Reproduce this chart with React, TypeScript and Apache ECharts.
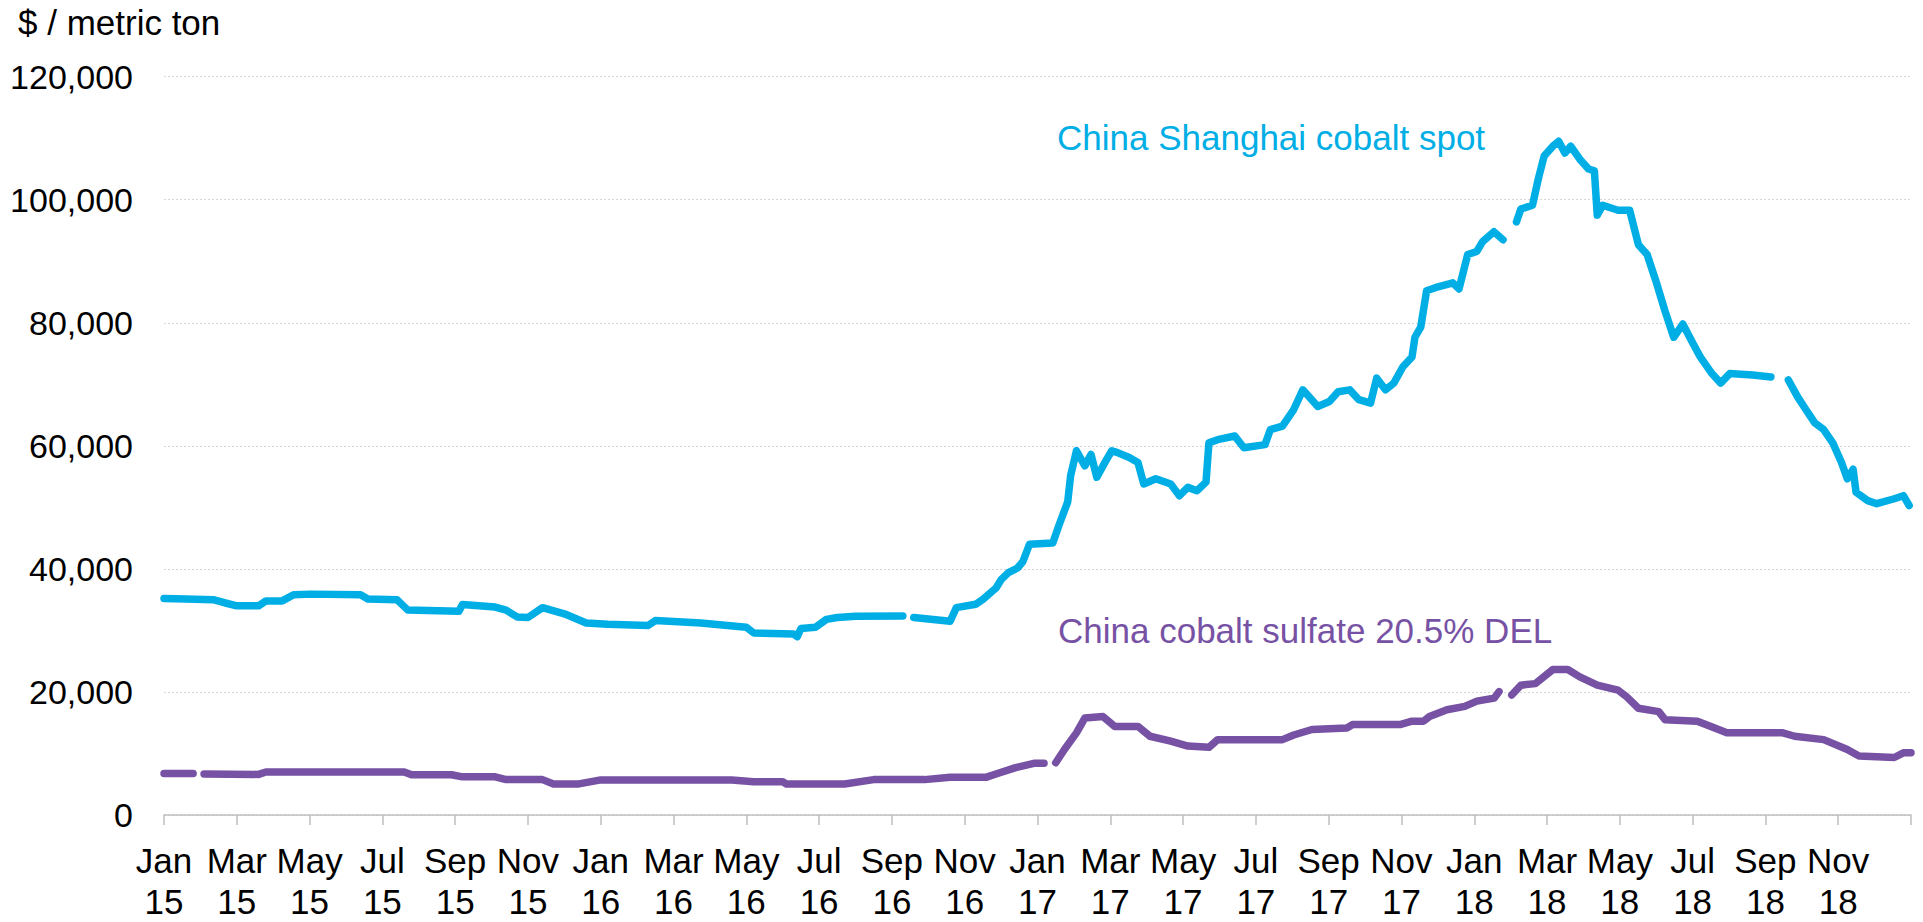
import React, { useEffect, useRef } from "react";
import * as echarts from "echarts";

// x positions are months since Jan 2015 (0 = Jan 15, 48 = Jan 19); null value = gap in the series
const spotMonths = [
  0.0, 0.6, 1.35, 1.66, 2.0, 2.6, 2.8, 3.25, 3.56, 4.03, 5.4, 5.6, 6.4, 6.7, 8.1, 8.2, 9.1, 9.4, 9.7, 10.0,
  10.4, 11.0, 11.6, 12.2, 13.3, 13.5, 14.75, 16.0, 16.2, 17.3, 17.4, 17.5, 17.9, 18.2, 18.5, 19.0, 20.3, 20.45,
  20.6, 21.6, 21.77, 22.3, 22.5, 22.86, 23.0, 23.2, 23.45, 23.6, 23.78, 24.42, 24.59, 24.83, 24.91, 25.07,
  25.3, 25.47, 25.63, 25.88, 26.04, 26.2, 26.52, 26.76, 26.92, 27.25, 27.66, 27.9, 28.13, 28.38, 28.63, 28.71,
  28.95, 29.42, 29.67, 30.25, 30.4, 30.73, 31.04, 31.29, 31.7, 32.02, 32.26, 32.58, 32.83, 33.15, 33.32,
  33.56, 33.79, 34.04, 34.29, 34.37, 34.53, 34.69, 34.93, 35.41, 35.58, 35.82, 36.07, 36.23, 36.54, 36.79,
  36.95, 37.16, 37.28, 37.6, 37.76, 37.92, 38.16, 38.32, 38.49, 38.65, 38.9, 39.14, 39.3, 39.38, 39.53,
  39.95, 40.27, 40.51, 40.75, 40.99, 41.24, 41.48, 41.73, 41.97, 42.21, 42.53, 42.77, 43.02, 43.65, 44.15,
  44.4, 44.63, 44.88, 45.11, 45.36, 45.6, 45.85, 46.09, 46.25, 46.41, 46.49, 46.81, 47.06, 47.54, 47.79, 47.95,
];
const spotValues: (number | null)[] = [
  35200, 35100, 35000, 34500, 34000, 34000, 34800, 34800, 35800, 35900, 35800, 35100, 35000, 33300, 33100, 34200, 33800, 33300, 32200, 32100,
  33700, 32700, 31200, 31000, 30800, 31600, 31200, 30500, 29600, 29400, 29000, 30300, 30500, 31800, 32100, 32300, 32350, null,
  32100, 31500, 33700, 34250, 35050, 36900, 38250, 39400, 40150, 41200, 44000, 44200, 47100, 50900, 55150, 59200,
  56750, 58600, 54900, 57600, 59200, 58900, 58100, 57300, 53800, 54650, 53800, 51900, 53250, 52700, 54100, 60500,
  61000, 61600, 59700, 60200, 62650, 63200, 65900, 69100, 66400, 67200, 68800, 69100, 67500, 66950, 71000,
  69100, 70200, 72850, 74450, 77650, 79300, 85200, 85700, 86500, 85500, 91100, 91600, 93200, 94800, 93500,
  null, 96400, 98500, 99100, 103400, 107100, 108700, 109500, 107600, 108700, 106600, 105000, 104700, 97500, 99100,
  98300, 98300, 92700, 91100, 86800, 81950, 77650, 79800, 77100, 74450, 71750, 70200, 71750, 71500, 71200,
  null, 70700, 68000, 65900, 63700, 62650, 60500, 57300, 54650, 56200, 52450, 51100, 50600, 51400, 51900, 50300,
];

const sulfateMonths = [
  0.0, 0.8, 0.95, 1.1, 2.6, 2.8, 6.6, 6.8, 7.9, 8.2, 9.1, 9.4, 10.4, 10.7, 11.4, 12.0, 15.6, 16.2, 17.0, 17.1,
  18.7, 19.5, 20.9, 21.6, 22.6, 22.9, 23.4, 23.9, 24.18, 24.34, 24.5, 24.74, 25.07, 25.3, 25.8, 26.12, 26.76,
  27.09, 27.66, 28.13, 28.71, 28.95, 30.73, 31.04, 31.54, 32.5, 32.66, 33.96, 34.29, 34.61, 34.77, 35.25,
  35.74, 36.07, 36.55, 36.68, 36.85, 37.03, 37.28, 37.68, 38.16, 38.57, 38.9, 39.38, 39.95, 40.19, 40.51,
  41.07, 41.24, 42.13, 42.36, 42.94, 44.48, 44.8, 45.6, 46.25, 46.57, 47.54, 47.79, 48.0,
];
const sulfateValues: (number | null)[] = [
  6750, 6750, null, 6650, 6600, 7000, 7000, 6550, 6550, 6200, 6200, 5750, 5750, 5050, 5050, 5700, 5700, 5400, 5400, 5050,
  5050, 5750, 5750, 6150, 6150, 6750, 7700, 8400, 8400, null, 8500, 10650, 13350, 15750, 16000, 14400, 14400,
  12800, 12000, 11200, 11000, 12250, 12250, 13000, 13900, 14150, 14700, 14700, 15250, 15250, 16000, 17100,
  17650, 18500, 19000, 20050, null, 19500, 21100, 21350, 23650, 23650, 22450, 21100, 20300, 19200, 17350,
  16800, 15500, 15250, 14700, 13350, 13350, 12800, 12250, 10650, 9600, 9350, 10100, 10100,
];

const monthNames = ["Jan", "Feb", "Mar", "Apr", "May", "Jun", "Jul", "Aug", "Sep", "Oct", "Nov", "Dec"];
const startYear = 15;
const yTitle = "$ / metric ton";
const spotName = "China Shanghai cobalt spot";
const sulfateName = "China cobalt sulfate 20.5% DEL";

const CYAN = "#00AEE6";
const PURPLE = "#7752A4";
const FONT = "'Liberation Sans', Arial, sans-serif";

function pairs(xs: number[], ys: (number | null)[]) {
  return xs.map((x, i) => [x, ys[i] === null ? "-" : ys[i]]);
}

export default function App() {
  const ref = useRef<HTMLDivElement>(null);
  useEffect(() => {
    if (!ref.current) return;
    const chart = echarts.init(ref.current, undefined, { renderer: "svg" });
    chart.setOption({
      animation: false,
      backgroundColor: "#ffffff",
      textStyle: { fontFamily: FONT },
      grid: { left: 164, right: 12, top: 76.7, bottom: 99, containLabel: false },
      xAxis: {
        type: "value",
        min: 0,
        max: 48,
        interval: 2,
        axisLine: { show: true, lineStyle: { color: "#BFBFBF", width: 1.5 } },
        axisTick: { show: true, length: 10, lineStyle: { color: "#BFBFBF", width: 1.5 } },
        splitLine: { show: false },
        axisLabel: {
          show: true,
          showMinLabel: true,
          showMaxLabel: true,
          margin: 25,
          color: "#000",
          fontSize: 35,
          lineHeight: 41,
          fontFamily: FONT,
          formatter: (v: number) => {
            if (v >= 48) return "";
            const mi = Math.round(v) % 12;
            const yr = startYear + Math.floor(Math.round(v) / 12);
            return `${monthNames[mi]}\n${yr}`;
          },
        },
      },
      yAxis: {
        type: "value",
        min: 0,
        max: 120000,
        interval: 20000,
        axisLine: { show: false },
        axisTick: { show: false },
        splitLine: { show: true, lineStyle: { color: "#D6D6D6", width: 1, type: [2, 2] } },
        axisLabel: {
          margin: 31,
          color: "#000",
          fontSize: 34,
          fontFamily: FONT,
          formatter: (v: number) => v.toLocaleString("en-US"),
        },
      },
      graphic: [
        {
          type: "text",
          left: 18,
          top: 5,
          style: { text: yTitle, fill: "#000", font: `35px ${FONT}` },
        },
        {
          type: "text",
          left: 1057,
          top: 120,
          style: { text: spotName, fill: CYAN, font: `35px ${FONT}` },
        },
        {
          type: "text",
          left: 1058,
          top: 613,
          style: { text: sulfateName, fill: PURPLE, font: `35px ${FONT}` },
        },
      ],
      series: [
        {
          name: spotName,
          type: "line",
          data: pairs(spotMonths, spotValues),
          showSymbol: false,
          connectNulls: false,
          lineStyle: { color: CYAN, width: 7.5, cap: "round", join: "round" },
          itemStyle: { color: CYAN },
          z: 3,
        },
        {
          name: sulfateName,
          type: "line",
          data: pairs(sulfateMonths, sulfateValues),
          showSymbol: false,
          connectNulls: false,
          lineStyle: { color: PURPLE, width: 7.5, cap: "round", join: "round" },
          itemStyle: { color: PURPLE },
          z: 2,
        },
      ],
    });
    return () => chart.dispose();
  }, []);
  return (
    <div
      ref={ref}
      style={{ position: "absolute", left: 0, top: 0, width: 1923, height: 922 }}
    />
  );
}
